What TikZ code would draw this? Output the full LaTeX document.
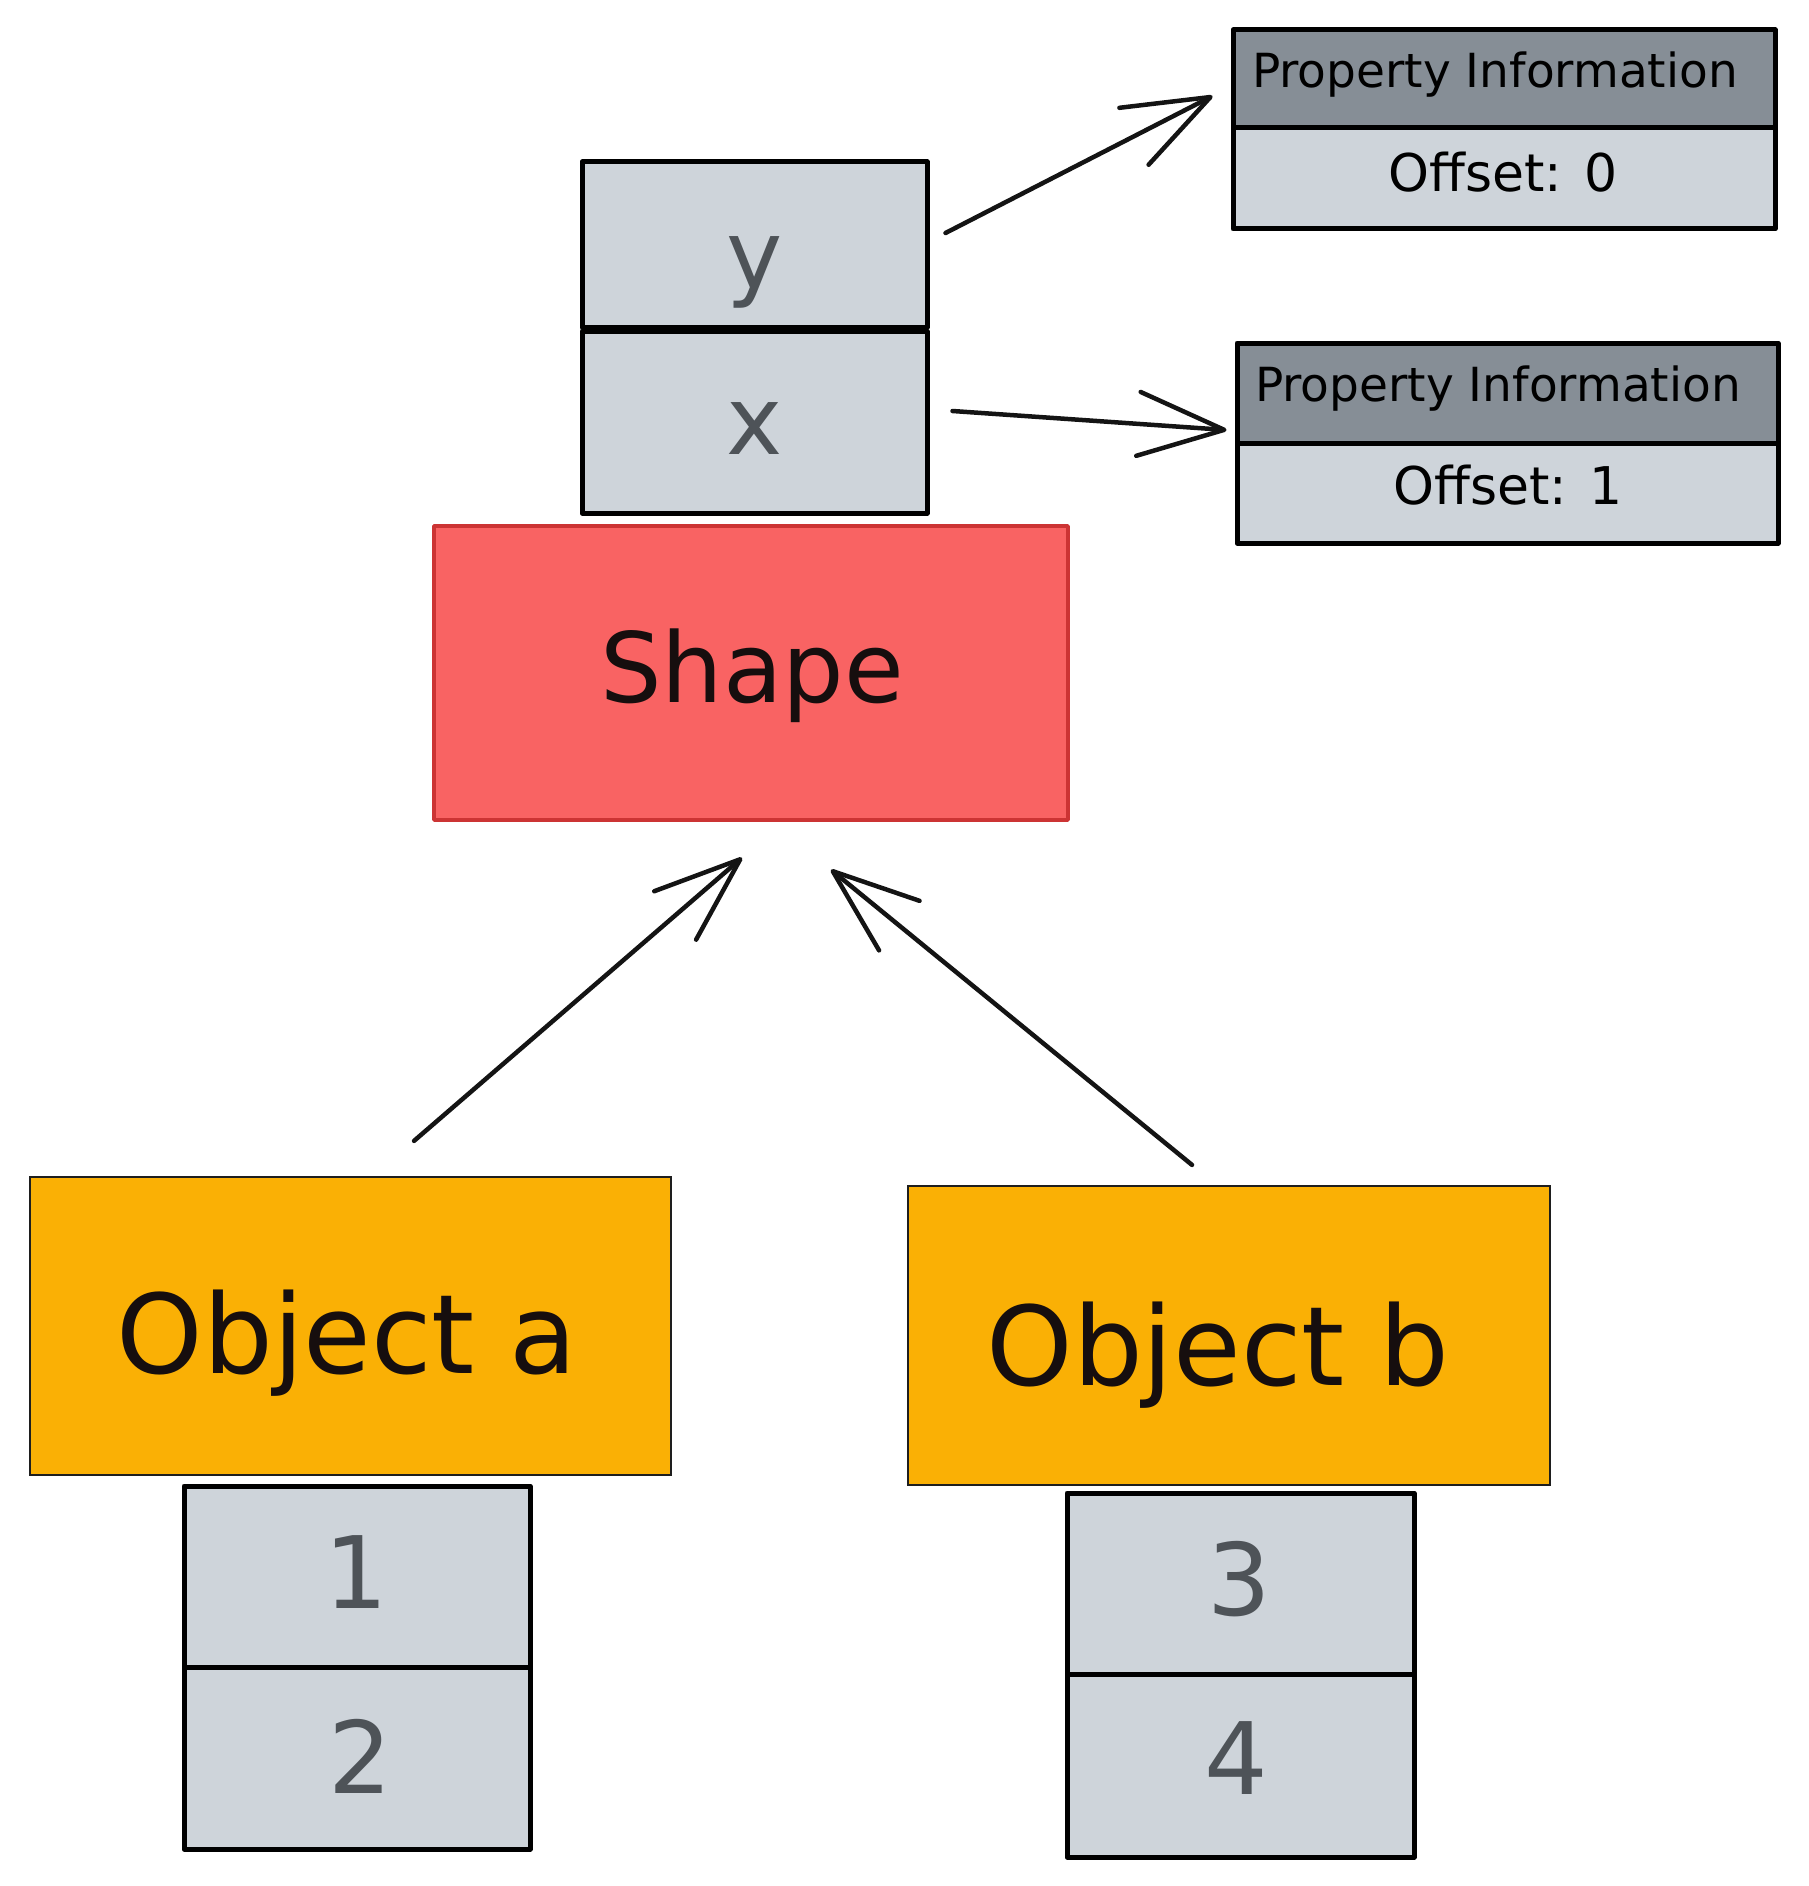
\documentclass[tikz,border=0pt]{standalone}
\usepackage{fontspec}
\setmainfont{DejaVu Sans}
\usetikzlibrary{arrows.meta,calc}
\definecolor{cellfill}{RGB}{206,212,218}
\definecolor{hdrfill}{RGB}{134,142,150}
\definecolor{cellink}{RGB}{78,83,88}
\definecolor{objfill}{RGB}{250,176,5}
\definecolor{objline}{RGB}{30,30,30}
\definecolor{shapefill}{RGB}{249,99,99}
\definecolor{shapeline}{RGB}{204,52,52}
\definecolor{ink}{RGB}{22,14,14}
\begin{document}
\begin{tikzpicture}[x=1pt,y=-1pt,
  cellbox/.style={draw=black,line width=5pt,line join=round,fill=cellfill,inner sep=0pt},
  hdrbox/.style={draw=black,line width=5pt,line join=round,fill=hdrfill,inner sep=0pt},
  objbox/.style={draw=objline,line width=2.2pt,fill=objfill,inner sep=0pt},
  shapebox/.style={draw=shapeline,line width=3.5pt,line join=round,fill=shapefill,inner sep=0pt},
  celltext/.style={text=cellink,inner sep=0pt,font=\fontsize{100}{110}\selectfont},
  bigtext/.style={text=ink,inner sep=0pt,font=\fontsize{110}{120}\selectfont},
  shapetext/.style={text=ink,inner sep=0pt,font=\fontsize{97}{110}\selectfont},
  hdrtext/.style={text=black,inner sep=0pt,font=\fontsize{47}{55}\selectfont},
  offtext/.style={text=black,inner sep=0pt,font=\fontsize{52}{60}\selectfont},
  arr/.style={draw=black!92,line width=4.5pt,line cap=round,
    -{Straight Barb[length=86pt,width=64pt,round]}}
]
\useasboundingbox (0,0) rectangle (1808,1886);

% property information boxes
\node[hdrbox,minimum width=542pt,minimum height=98pt] (pi0h) at (1504,79) {};
\node[cellbox,minimum width=542pt,minimum height=101pt] (pi0b) at (1504,178.5) {};
\node[hdrbox,minimum width=541pt,minimum height=100pt] (pi1h) at (1507.5,393) {};
\node[cellbox,minimum width=541pt,minimum height=100pt] (pi1b) at (1507.5,493) {};
\node[hdrtext] (pi0t) at (1495,75) {Property Information};
\node[offtext] (pi0o) at (1503,172) {Offset: 0};
\node[hdrtext] (pi1t) at (1498,389) {Property Information};
\node[offtext] (pi1o) at (1508,485) {Offset: 1};

% y / x stack
\node[cellbox,minimum width=345pt,minimum height=165pt] (yb) at (754.5,244.5) {};
\node[cellbox,minimum width=345pt,minimum height=182pt] (xb) at (754.5,422) {};
\node[celltext,font=\fontsize{95}{105}\selectfont] (ylab) at (755,272) {y};
\node[celltext,font=\fontsize{95}{105}\selectfont] (xlab) at (755,429) {x};

% shape
\node[shapebox,minimum width=634pt,minimum height=294pt] (shape) at (751,673) {};
\node[shapetext] (shapet) at (752,676) {Shape};

% objects
\node[objbox,minimum width=641pt,minimum height=298pt] (oa) at (350.5,1326) {};
\node[bigtext] (oat) at (347,1343) {Object a};
\node[objbox,minimum width=642pt,minimum height=299pt] (ob) at (1229,1335.5) {};
\node[bigtext] (obt) at (1218,1355) {Object b};

% value stacks
\node[cellbox,minimum width=346pt,minimum height=181pt] (c1) at (357,1576.5) {};
\node[cellbox,minimum width=346pt,minimum height=182pt] (c2) at (357,1758) {};
\node[cellbox,minimum width=347pt,minimum height=181pt] (c3) at (1240.5,1583.5) {};
\node[cellbox,minimum width=347pt,minimum height=183pt] (c4) at (1240.5,1765.5) {};
\node[celltext] (c1t) at (356,1572) {1};
\node[celltext] (c2t) at (360,1756) {2};
\node[celltext] (c3t) at (1239,1579) {3};
\node[celltext] (c4t) at (1236,1758) {4};

% arrows
\draw[arr] ($(yb.east)+(16,-11.5)$) -- ($(pi0h.west)+(-18,17)$);
\draw[arr] ($(xb.east)+(23,-11)$) -- ($(pi1h.west)+(-8,37)$);
\draw[arr] ($(oa.north)+(63.5,-35)$) -- ($(shape.south)+(-9,36)$);
\draw[arr] ($(ob.north)+(-37,-20)$) -- ($(shape.south)+(80,48)$);
\end{tikzpicture}
\end{document}
